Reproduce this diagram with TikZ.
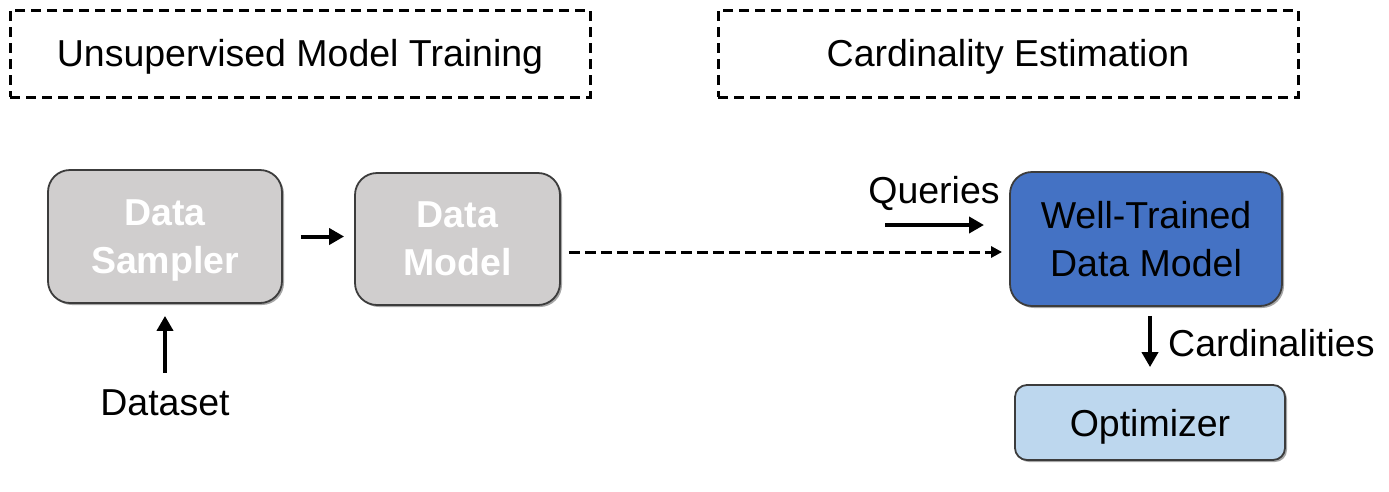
\documentclass[tikz,border=0pt]{standalone}
\usepackage{fontspec}
\setmainfont{Liberation Sans}
\usetikzlibrary{arrows.meta,shadows}
\definecolor{boxgray}{RGB}{208,206,206}
\definecolor{boxblue}{RGB}{68,114,196}
\definecolor{boxlight}{RGB}{189,215,238}
\definecolor{edgegray}{RGB}{60,60,60}
\tikzset{
  bigtext/.style={font=\fontsize{37.5}{48}\selectfont},
  titlebox/.style={draw=black, line width=3pt, dash pattern=on 10pt off 6pt, minimum width=580pt, minimum height=87pt, inner sep=0pt, text height=26pt, text depth=0pt, bigtext},
  boxshadow/.style={drop shadow={shadow xshift=2pt, shadow yshift=-2pt, opacity=0.35, fill=black}},
  graybox/.style={draw=edgegray, line width=1.8pt, fill=boxgray, rounded corners=22pt, text=white, align=center, inner sep=0pt, text depth=0pt,
    font=\fontsize{37.5}{48}\selectfont\bfseries, boxshadow},
  bluebox/.style={draw=edgegray, line width=1.8pt, fill=boxblue, rounded corners=22pt, text=black, align=center, inner sep=0pt, text depth=0pt,
    bigtext, boxshadow},
  lightbox/.style={draw=edgegray, line width=1.8pt, fill=boxlight, rounded corners=12pt, text=black, align=center, inner sep=0pt, text depth=0pt,
    bigtext, boxshadow},
  plain/.style={inner sep=0pt, bigtext},
  solidarrow/.style={line width=4pt, -{Triangle[length=15pt,width=16pt]}},
  dasharrow/.style={line width=3pt, dash pattern=on 11pt off 5pt, -{Triangle[length=11pt,width=11pt]}},
}
\begin{document}
\begin{tikzpicture}[x=1pt,y=-1pt]
\useasboundingbox (0,0) rectangle (1389,491);
\fill[white] (0,0) rectangle (1389,491);

\node[titlebox] (t1) at (300,53.5) {Unsupervised Model Training};
\node[titlebox] (t2) at (1008,53.5) {Cardinality Estimation};

\node[graybox, minimum width=234pt, minimum height=133pt] (ds) at (165,236.5) {Data\\Sampler};
\node[graybox, minimum width=205pt, minimum height=132pt] (dm) at (457.5,239) {Data\\Model};
\node[bluebox, minimum width=272pt, minimum height=134pt] (wt) at (1146,239) {Well-Trained\\Data Model};
\node[lightbox, minimum width=270pt, minimum height=75pt] (opt) at (1150,422.5) {Optimizer};

\node[plain] (dataset) at (165,403) {Dataset};
\node[plain] (queries) at (934,193) {Queries};
\node[plain, anchor=west] (card) at (1168,343) {Cardinalities};

\draw[solidarrow, shorten <=18pt, shorten >=10pt] (ds.east) -- (ds.east -| dm.west);
\draw[solidarrow, shorten <=17pt, shorten >=12pt] (dataset.north) -- (ds.south);
\draw[dasharrow, shorten <=8pt, shorten >=7pt] ([yshift=-13pt]dm.east) -- ([yshift=-13pt]dm.east -| wt.west);
\coordinate (q1) at (885,225);
\coordinate (q2) at (984,225);
\draw[solidarrow] (q1) -- (q2);
\draw[solidarrow, shorten <=9pt, shorten >=17pt] ([xshift=4pt]wt.south) -- (opt.north);
\end{tikzpicture}
\end{document}
